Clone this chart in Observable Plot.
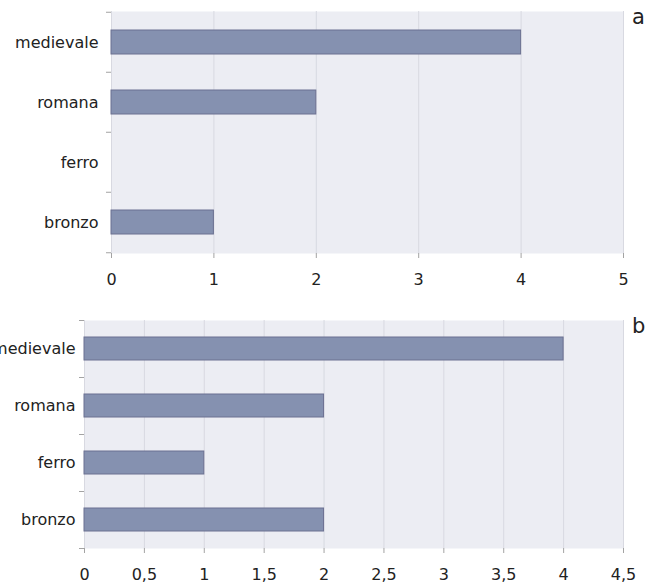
<!DOCTYPE html>
<html>
<head>
<meta charset="utf-8">
<script src="https://cdn.jsdelivr.net/npm/d3@7"></script>
<script src="https://cdn.jsdelivr.net/npm/@observablehq/plot@0.6"></script>
<style>
  body { margin: 0; background: #fff; }
  #wrap { position: relative; width: 659px; height: 584px; overflow: hidden; }
  #wrap svg { display: block; }
  .panel { position: absolute; font-family: "DejaVu Sans", sans-serif; font-size: 21px; line-height: 21px; color: #222; }
</style>
</head>
<body>
<div id="wrap"></div>
<script>
const categories = ["medievale", "romana", "ferro", "bronzo"];
const valuesA = [4, 2, 0, 1];
const valuesB = [4, 2, 1, 2];
const ticksA = [0, 1, 2, 3, 4, 5];
const ticksB = [0, 0.5, 1, 1.5, 2, 2.5, 3, 3.5, 4, 4.5];
const panelLabels = ["a", "b"];

const BG = "#ecedf3";
const BAR = "#8591b0";
const BAR_STROKE = "#6b7091";
const GRID = "#d8d9e1";
const AXIS = "#a3a3a3";
const TEXT = "#222";

function panel(values, ticks, domain, opts) {
  const data = categories.map((c, i) => ({cat: c, value: values[i]}));
  const {width, height, mt, mb, ml, mr, ypad} = opts;
  const step = (height - mt - mb) / categories.length;
  const fmt = d => String(d).replace(".", ",");
  return Plot.plot({
    width, height,
    marginTop: mt, marginBottom: mb, marginLeft: ml, marginRight: mr,
    style: {fontFamily: "DejaVu Sans, sans-serif", fontSize: "16px", color: TEXT, background: "transparent"},
    x: {domain, ticks, tickFormat: fmt},
    y: {domain: categories, paddingInner: 0.6, paddingOuter: 0.3},
    marks: [
      Plot.frame({fill: BG, stroke: null}),
      Plot.gridX({ticks, stroke: GRID, strokeOpacity: 1, strokeWidth: 1}),
      Plot.barX(data, {x: "value", y: "cat", fill: BAR, stroke: BAR_STROKE, strokeWidth: 1, filter: d => d.value > 0}),
      Plot.axisX({ticks, tickFormat: fmt, tickSize: 5, tickPadding: 15, stroke: AXIS, fill: TEXT, line: true, label: null}),
      Plot.axisY({tickSize: 0, tickPadding: ypad, stroke: AXIS, fill: TEXT, line: true, label: null}),
      Plot.axisY({tickSize: 5, tickFormat: () => "", stroke: AXIS, dy: -step / 2, label: null}),
      Plot.axisY([categories[categories.length - 1]], {tickSize: 5, tickFormat: () => "", stroke: AXIS, dy: step / 2, label: null})
    ]
  });
}

const wrap = document.getElementById("wrap");
const a = panel(valuesA, ticksA, [0, 5], {width: 659, height: 300, mt: 11, mb: 47, ml: 111, mr: 36, ypad: 13});
const b = panel(valuesB, ticksB, [0, 4.5], {width: 659, height: 284, mt: 20, mb: 36, ml: 84, mr: 36, ypad: 9});
wrap.appendChild(a);
wrap.appendChild(b);

const la = document.createElement("div");
la.className = "panel"; la.textContent = panelLabels[0];
la.style.left = "632px"; la.style.top = "7px";
wrap.appendChild(la);
const lb = document.createElement("div");
lb.className = "panel"; lb.textContent = panelLabels[1];
lb.style.left = "632px"; lb.style.top = "316px";
wrap.appendChild(lb);
</script>
</body>
</html>
